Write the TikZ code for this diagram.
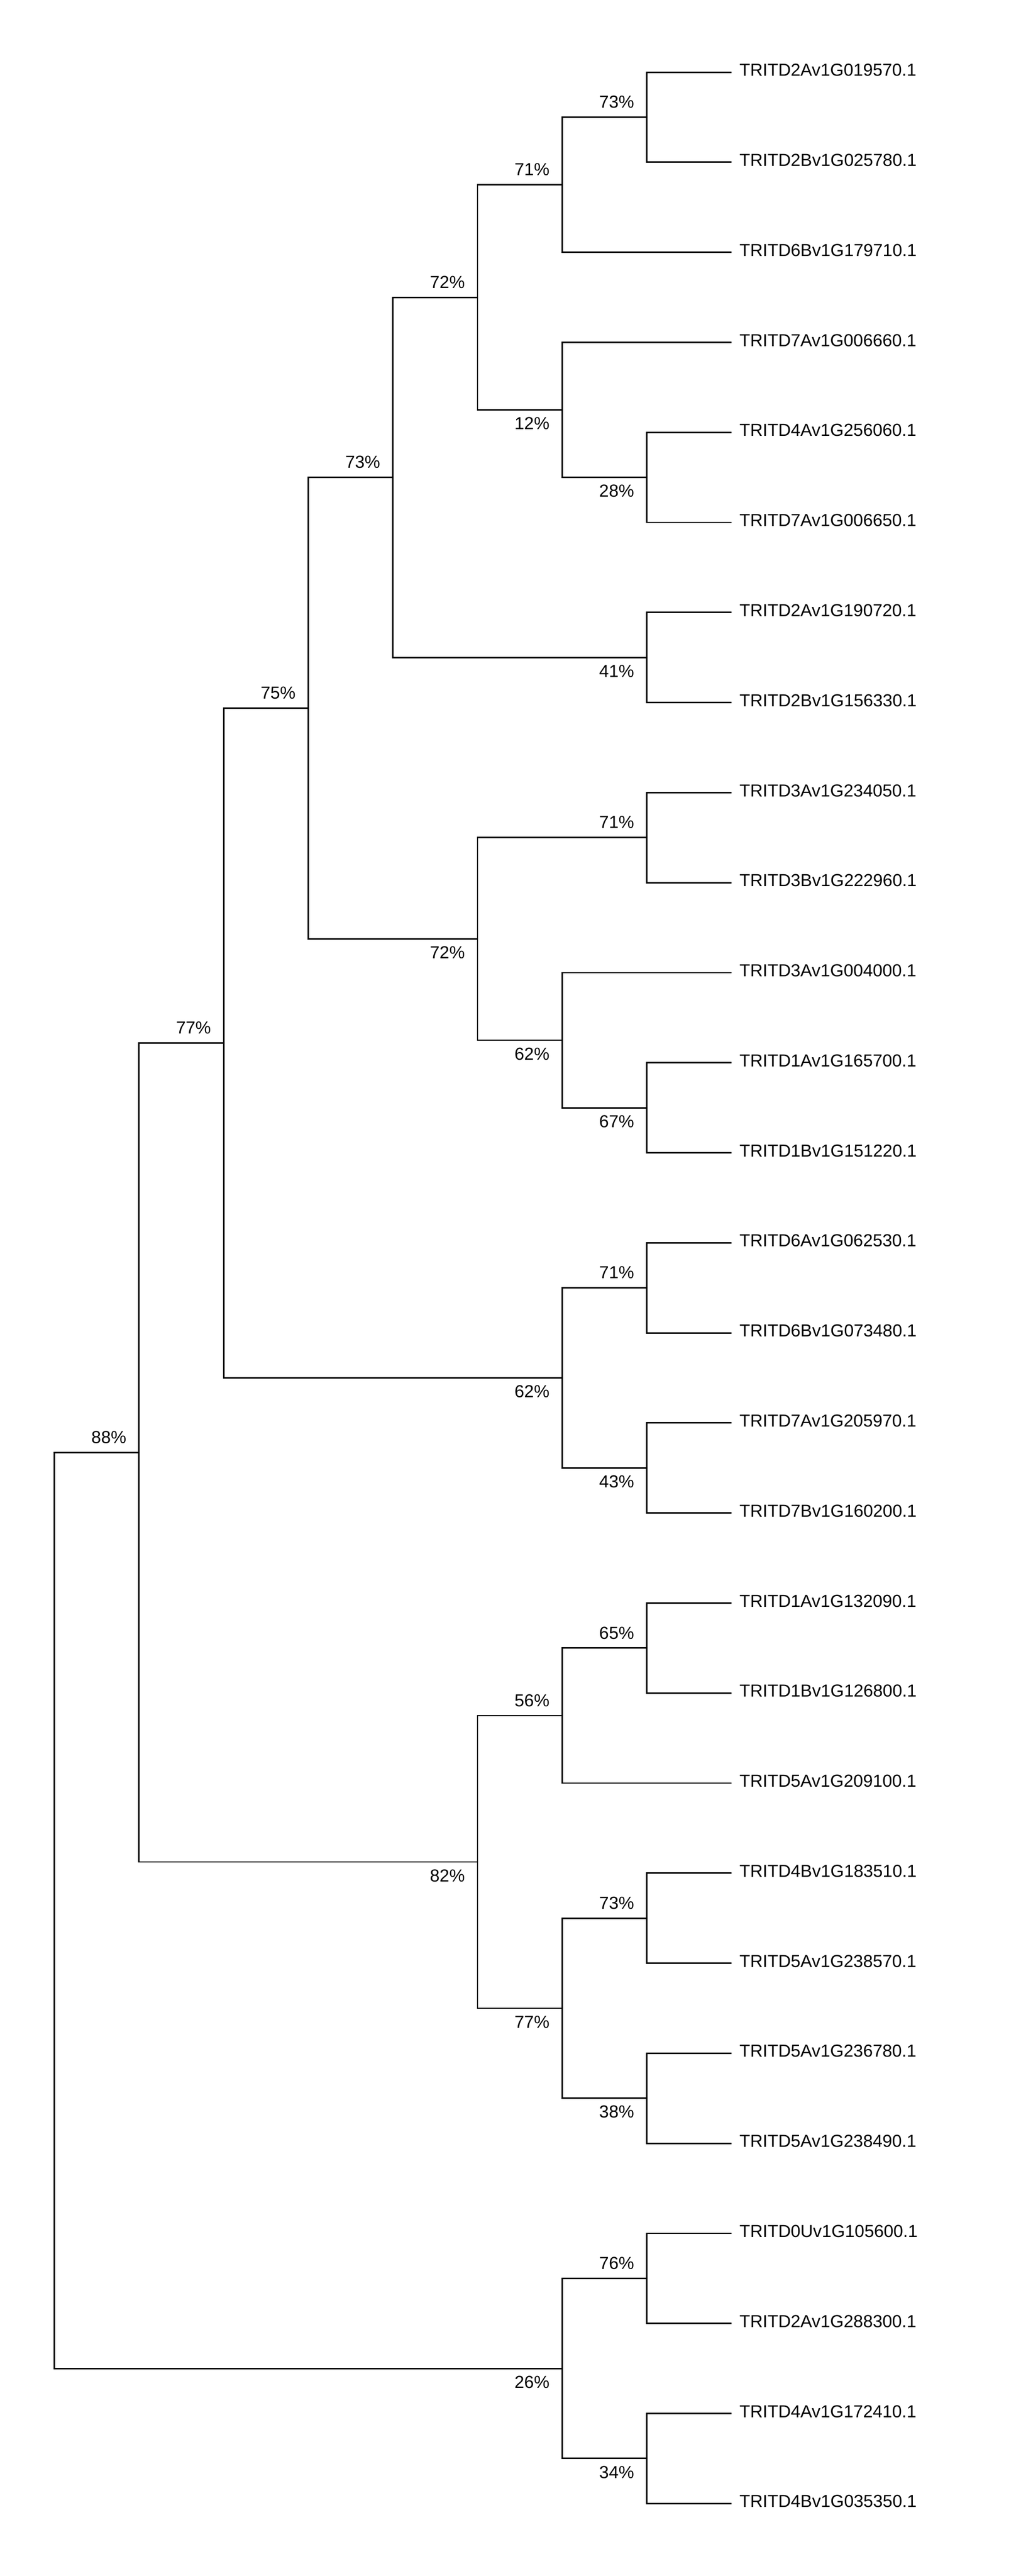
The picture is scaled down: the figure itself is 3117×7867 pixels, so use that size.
\documentclass[tikz,border=0pt]{standalone}
\usepackage{fontspec}
\setmainfont{Liberation Sans}
\begin{document}
\begin{tikzpicture}[x=0.25pt,y=-0.25pt,
  branch/.style={draw=black,line width=1.125pt,line join=miter},
  leaflabel/.style={anchor=base west,inner sep=0pt,xshift=6pt,yshift=-3pt,font=\fontsize{13.3}{16}\selectfont},
  upper/.style={anchor=base east,inner sep=0pt,xshift=-9.5pt,yshift=7pt,font=\fontsize{13.3}{16}\selectfont},
  lower/.style={anchor=base east,inner sep=0pt,xshift=-9.5pt,yshift=-15pt,font=\fontsize{13.3}{16}\selectfont}]
\useasboundingbox[fill=white] (0,0) rectangle (3117,7867);
% leaves
\coordinate (l0) at (2234,220.5);
\coordinate (l1) at (2234,495.5);
\coordinate (l2) at (2234,770.5);
\coordinate (l3) at (2234,1045.5);
\coordinate (l4) at (2234,1320.5);
\coordinate (l5) at (2234,1595.5);
\coordinate (l6) at (2234,1870.5);
\coordinate (l7) at (2234,2145.5);
\coordinate (l8) at (2234,2420.5);
\coordinate (l9) at (2234,2695.5);
\coordinate (l10) at (2234,2970.5);
\coordinate (l11) at (2234,3245.5);
\coordinate (l12) at (2234,3520.5);
\coordinate (l13) at (2234,3795.5);
\coordinate (l14) at (2234,4070.5);
\coordinate (l15) at (2234,4345.5);
\coordinate (l16) at (2234,4620.5);
\coordinate (l17) at (2234,4895.5);
\coordinate (l18) at (2234,5170.5);
\coordinate (l19) at (2234,5445.5);
\coordinate (l20) at (2234,5720.5);
\coordinate (l21) at (2234,5995.5);
\coordinate (l22) at (2234,6270.5);
\coordinate (l23) at (2234,6545.5);
\coordinate (l24) at (2234,6820.5);
\coordinate (l25) at (2234,7095.5);
\coordinate (l26) at (2234,7370.5);
\coordinate (l27) at (2234,7645.5);
% leaf labels
\node[leaflabel] (t0) at (l0) {TRITD2Av1G019570.1};
\node[leaflabel] (t1) at (l1) {TRITD2Bv1G025780.1};
\node[leaflabel] (t2) at (l2) {TRITD6Bv1G179710.1};
\node[leaflabel] (t3) at (l3) {TRITD7Av1G006660.1};
\node[leaflabel] (t4) at (l4) {TRITD4Av1G256060.1};
\node[leaflabel] (t5) at (l5) {TRITD7Av1G006650.1};
\node[leaflabel] (t6) at (l6) {TRITD2Av1G190720.1};
\node[leaflabel] (t7) at (l7) {TRITD2Bv1G156330.1};
\node[leaflabel] (t8) at (l8) {TRITD3Av1G234050.1};
\node[leaflabel] (t9) at (l9) {TRITD3Bv1G222960.1};
\node[leaflabel] (t10) at (l10) {TRITD3Av1G004000.1};
\node[leaflabel] (t11) at (l11) {TRITD1Av1G165700.1};
\node[leaflabel] (t12) at (l12) {TRITD1Bv1G151220.1};
\node[leaflabel] (t13) at (l13) {TRITD6Av1G062530.1};
\node[leaflabel] (t14) at (l14) {TRITD6Bv1G073480.1};
\node[leaflabel] (t15) at (l15) {TRITD7Av1G205970.1};
\node[leaflabel] (t16) at (l16) {TRITD7Bv1G160200.1};
\node[leaflabel] (t17) at (l17) {TRITD1Av1G132090.1};
\node[leaflabel] (t18) at (l18) {TRITD1Bv1G126800.1};
\node[leaflabel] (t19) at (l19) {TRITD5Av1G209100.1};
\node[leaflabel] (t20) at (l20) {TRITD4Bv1G183510.1};
\node[leaflabel] (t21) at (l21) {TRITD5Av1G238570.1};
\node[leaflabel] (t22) at (l22) {TRITD5Av1G236780.1};
\node[leaflabel] (t23) at (l23) {TRITD5Av1G238490.1};
\node[leaflabel] (t24) at (l24) {TRITD0Uv1G105600.1};
\node[leaflabel] (t25) at (l25) {TRITD2Av1G288300.1};
\node[leaflabel] (t26) at (l26) {TRITD4Av1G172410.1};
\node[leaflabel] (t27) at (l27) {TRITD4Bv1G035350.1};
% internal nodes
\coordinate (na) at (1975.5,358);
\coordinate (nb) at (1717,564.25);
\coordinate (nd) at (1975.5,1458);
\coordinate (nc) at (1717,1251.75);
\coordinate (ne) at (1458.5,908);
\coordinate (nf) at (1975.5,2008);
\coordinate (ng4) at (1200,1458);
\coordinate (ng) at (1975.5,2558);
\coordinate (nh) at (1975.5,3383);
\coordinate (ni) at (1717,3176.75);
\coordinate (nj) at (1458.5,2867.375);
\coordinate (nk) at (941.5,2162.6875);
\coordinate (nl) at (1975.5,3933);
\coordinate (nm) at (1975.5,4483);
\coordinate (nn) at (1717,4208);
\coordinate (no) at (683,3185.34);
\coordinate (np) at (1975.5,5033);
\coordinate (nq) at (1717,5239.25);
\coordinate (nr) at (1975.5,5858);
\coordinate (ns) at (1975.5,6408);
\coordinate (nt) at (1717,6133);
\coordinate (nu) at (1458.5,5686.125);
\coordinate (nv) at (424.5,4435.7);
\coordinate (nw) at (1975.5,6958);
\coordinate (nx) at (1975.5,7508);
\coordinate (ny) at (1717,7233);
\coordinate (root) at (166,5834.4);
% branches
\foreach \p/\a/\b in {na/l0/l1, nb/na/l2, nd/l4/l5, nc/l3/nd, ne/nb/nc, nf/l6/l7,
  ng4/ne/nf, ng/l8/l9, nh/l11/l12, ni/l10/nh, nj/ng/ni, nk/ng4/nj, nl/l13/l14,
  nm/l15/l16, nn/nl/nm, no/nk/nn, np/l17/l18, nq/np/l19, nr/l20/l21, ns/l22/l23,
  nt/nr/ns, nu/nq/nt, nv/no/nu, nw/l24/l25, nx/l26/l27, ny/nw/nx, root/nv/ny}
  \draw[branch] (\a) -- (\a -| \p) -- (\b -| \p) -- (\b);
% support values
\node[upper] (sa) at (na) {73\%};
\node[upper] (sb) at (nb) {71\%};
\node[lower] (sd) at (nd) {28\%};
\node[lower] (sc) at (nc) {12\%};
\node[upper] (se) at (ne) {72\%};
\node[lower] (sf) at (nf) {41\%};
\node[upper] (sg4) at (ng4) {73\%};
\node[upper] (sg) at (ng) {71\%};
\node[lower] (sh) at (nh) {67\%};
\node[lower] (si) at (ni) {62\%};
\node[lower] (sj) at (nj) {72\%};
\node[upper] (sk) at (nk) {75\%};
\node[upper] (sl) at (nl) {71\%};
\node[lower] (sm) at (nm) {43\%};
\node[lower] (sn) at (nn) {62\%};
\node[upper] (so) at (no) {77\%};
\node[upper] (sp) at (np) {65\%};
\node[upper] (sq) at (nq) {56\%};
\node[upper] (sr) at (nr) {73\%};
\node[lower] (ss) at (ns) {38\%};
\node[lower] (st) at (nt) {77\%};
\node[lower] (su) at (nu) {82\%};
\node[upper] (sv) at (nv) {88\%};
\node[upper] (sw) at (nw) {76\%};
\node[lower] (sx) at (nx) {34\%};
\node[lower] (sy) at (ny) {26\%};
\end{tikzpicture}
\end{document}
